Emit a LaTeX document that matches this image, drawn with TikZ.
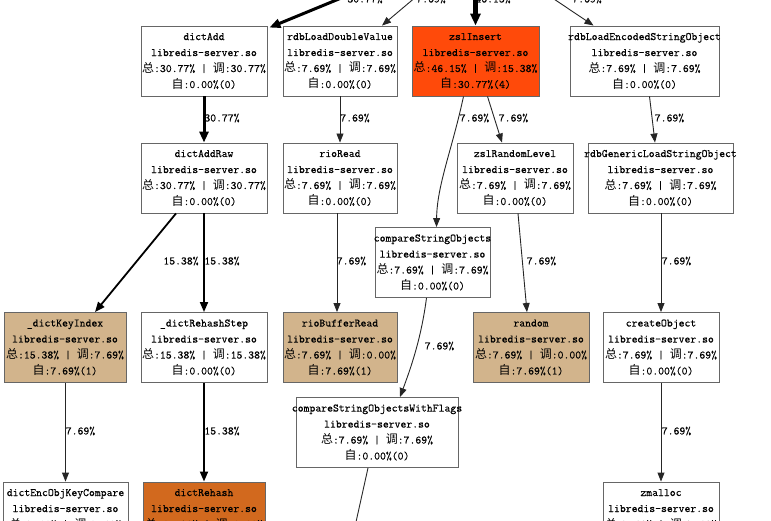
\documentclass[tikz,border=0pt]{standalone}
\usepackage{fontspec}
\newfontfamily\cjkfont{Noto Sans CJK SC}[Scale=1.05]
\newfontfamily\cgmono{Latin Modern Mono}[FakeBold=0.4]
\usetikzlibrary{arrows.meta,calc}
\definecolor{boxline}{HTML}{666666}
\definecolor{hotfill}{HTML}{FF4A0A}
\definecolor{warmfill}{HTML}{D2691E}
\definecolor{tanfill}{HTML}{D2B48C}
\newcommand\cgtext[4]{\makebox[0pt]{#1}\\\makebox[0pt]{libredis-server.so}\\\makebox[0pt]{{\cjkfont 总}:#2 | {\cjkfont 调}:#3}\\\makebox[0pt]{{\cjkfont 自}:#4}}
\begin{document}
\begin{tikzpicture}[x=1pt,y=-1pt,
  fn/.style={draw=boxline, line width=0.9pt, fill=white, inner sep=0pt, minimum height=70pt,
    align=center, font=\fontsize{11.4}{16}\selectfont\cgmono},
  lbl/.style={inner sep=0pt, font=\fontsize{11.4}{14}\selectfont\cgmono},
  ea/.style={draw=black!85, line width=0.9pt, -{Triangle[length=9pt,width=7pt]}},
  eb/.style={draw=black, line width=1.8pt, -{Triangle[length=10pt,width=8pt]}},
  ec/.style={draw=black, line width=3pt, -{Triangle[length=11pt,width=9pt]}},
  ed/.style={draw=black, line width=4.6pt, -{Triangle[length=12pt,width=10pt]}}]
\useasboundingbox (0,0) rectangle (771,521);
% row 1
\node[fn, minimum width=126pt] (dictAdd) at (204,61) {\cgtext{dictAdd}{30.77\%}{30.77\%}{0.00\%(0)}};
\node[fn, minimum width=114pt] (rdbLDV) at (340,61) {\cgtext{rdbLoadDoubleValue}{7.69\%}{7.69\%}{0.00\%(0)}};
\node[fn, minimum width=127pt, fill=hotfill] (zslInsert) at (475.5,61) {\cgtext{zslInsert}{46.15\%}{15.38\%}{30.77\%(4)}};
\node[fn, minimum width=149pt] (rdbLESO) at (644.5,61) {\cgtext{rdbLoadEncodedStringObject}{7.69\%}{7.69\%}{0.00\%(0)}};
% row 2
\node[fn, minimum width=126pt] (dictAddRaw) at (204,178) {\cgtext{dictAddRaw}{30.77\%}{30.77\%}{0.00\%(0)}};
\node[fn, minimum width=114pt] (rioRead) at (340,178) {\cgtext{rioRead}{7.69\%}{7.69\%}{0.00\%(0)}};
\node[fn, minimum width=116pt] (zslRL) at (515,178) {\cgtext{zslRandomLevel}{7.69\%}{7.69\%}{0.00\%(0)}};
\node[fn, minimum width=145pt] (rdbGLSO) at (660.5,178) {\cgtext{rdbGenericLoadStringObject}{7.69\%}{7.69\%}{0.00\%(0)}};
% compareStringObjects
\node[fn, minimum width=115pt] (cso) at (432.5,262.5) {\cgtext{compareStringObjects}{7.69\%}{7.69\%}{0.00\%(0)}};
% row 3
\node[fn, minimum width=122pt, fill=tanfill] (dki) at (65,347.5) {\cgtext{\_dictKeyIndex}{15.38\%}{7.69\%}{7.69\%(1)}};
\node[fn, minimum width=126pt] (drs) at (204,347.5) {\cgtext{\_dictRehashStep}{15.38\%}{15.38\%}{0.00\%(0)}};
\node[fn, minimum width=114pt, fill=tanfill] (rbr) at (340,347.5) {\cgtext{rioBufferRead}{7.69\%}{0.00\%}{7.69\%(1)}};
\node[fn, minimum width=116pt, fill=tanfill] (random) at (531,347.5) {\cgtext{random}{7.69\%}{0.00\%}{7.69\%(1)}};
\node[fn, minimum width=116pt] (createObj) at (661,347.5) {\cgtext{createObject}{7.69\%}{7.69\%}{0.00\%(0)}};
% compareStringObjectsWithFlags
\node[fn, minimum width=162pt] (csowf) at (377,432.5) {\cgtext{compareStringObjectsWithFlags}{7.69\%}{7.69\%}{0.00\%(0)}};
% row 4
\node[fn, minimum width=125pt] (deokc) at (65.5,517) {\cgtext{dictEncObjKeyCompare}{7.69\%}{7.69\%}{0.00\%(0)}};
\node[fn, minimum width=122pt, fill=warmfill] (dictRehash) at (204,517) {\cgtext{dictRehash}{15.38\%}{0.00\%}{15.38\%(2)}};
\node[fn, minimum width=116pt] (zmalloc) at (661,517) {\cgtext{zmalloc}{7.69\%}{7.69\%}{0.00\%(0)}};
% off-picture ends
\coordinate (inA) at (385,-20);
\coordinate (inB) at (436,-20);
\coordinate (inC) at (475.5,-20);
\coordinate (inD) at (525.5,-20);
\coordinate (outE) at (352,540);
% incoming edges
\draw[ec] (inA) -- ([xshift=2pt,yshift=-2pt]dictAdd.north east);
\draw[ea] (inB) -- ([xshift=42pt]rdbLDV.north);
\draw[ed] (inC) -- (zslInsert.north);
\draw[ea] (inD) -- ([xshift=-51pt]rdbLESO.north);
\node[lbl] (l1) at (365,-1) {30.77\%};
\node[lbl] (l2) at (431,-1) {7.69\%};
\node[lbl] (l3) at (493,-1) {46.15\%};
\node[lbl] (l4) at (587,-1) {7.69\%};
% row 1 -> row 2
\draw[ec] (dictAdd.south) -- (dictAddRaw.north);
\draw[ea] (rdbLDV.south) -- (rioRead.north);
\draw[ea] ([xshift=12pt]zslInsert.south) -- ([xshift=-13pt]zslRL.north);
\draw[ea] ([xshift=-12pt]zslInsert.south) .. controls (452,150) and (437,185) .. ([xshift=4pt]cso.north);
\draw[ea] ([xshift=5pt]rdbLESO.south) -- ([xshift=-5.5pt]rdbGLSO.north);
\node[lbl] (l5) at (222,118) {30.77\%};
\node[lbl] (l6) at (355,118) {7.69\%};
\node[lbl] (l7) at (474.5,118) {7.69\%};
\node[lbl] (l8) at (513.5,118) {7.69\%};
\node[lbl] (l9) at (669.5,118) {7.69\%};
% row 2 -> row 3
\draw[eb] ([xshift=-28pt]dictAddRaw.south) -- ([xshift=30pt]dki.north);
\draw[eb] (dictAddRaw.south) -- (drs.north);
\draw[ea] ([xshift=-3pt]rioRead.south) -- ([xshift=-3pt]rbr.north);
\draw[ea] ([xshift=3pt]zslRL.south) -- ([xshift=-4pt]random.north);
\draw[ea] ([xshift=0.5pt]rdbGLSO.south) -- (createObj.north);
\draw[ea] ([xshift=-6pt]cso.south) .. controls (421,340) and (410,370) .. ([xshift=23pt]csowf.north);
\node[lbl] (l10) at (181,261) {15.38\%};
\node[lbl] (l11) at (222,261) {15.38\%};
\node[lbl] (l12) at (351.5,261) {7.69\%};
\node[lbl] (l13) at (541.5,261) {7.69\%};
\node[lbl] (l14) at (676.5,261) {7.69\%};
\node[lbl] (l15) at (439.5,346) {7.69\%};
% row 3 -> row 4
\draw[ea] ([xshift=0.5pt]dki.south) -- (deokc.north);
\draw[eb] (drs.south) -- (dictRehash.north);
\draw[ea] (createObj.south) -- (zmalloc.north);
\draw[draw=black!85, line width=0.9pt] ([xshift=-9pt]csowf.south) -- (outE);
\node[lbl] (l16) at (80.5,431) {7.69\%};
\node[lbl] (l17) at (222,431) {15.38\%};
\node[lbl] (l18) at (676.5,431) {7.69\%};
\end{tikzpicture}
\end{document}
